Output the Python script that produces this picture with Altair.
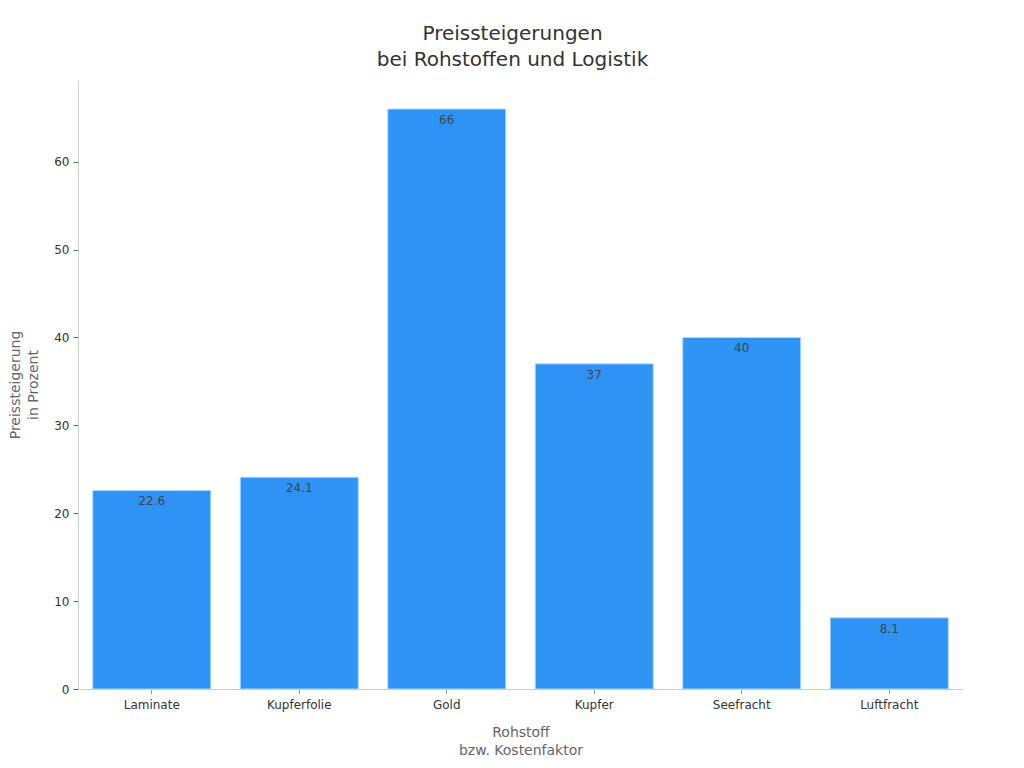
import altair as alt
import pandas as pd

categories = ["Laminate", "Kupferfolie", "Gold", "Kupfer", "Seefracht", "Luftfracht"]
values = [22.6, 24.1, 66, 37, 40, 8.1]
labels = ["22.6", "24.1", "66", "37", "40", "8.1"]

df = pd.DataFrame({"cat": categories, "val": values, "lab": labels})

FONT = "DejaVu Sans"

x = alt.X("cat:N", sort=categories,
          scale=alt.Scale(paddingInner=0.2, paddingOuter=0.1),
          axis=alt.Axis(title=["Rohstoff", "bzw. Kostenfaktor"], labelAngle=0,
                        labelFontSize=12, labelColor="#333333", labelFont=FONT,
                        titleFontSize=14, titleColor="#666666", titleFont=FONT,
                        titleFontWeight="normal", titlePadding=15, titleLineHeight=18,
                        tickColor="#999999", tickSize=5, domainColor="#cccccc",
                        labelPadding=5))
y = alt.Y("val:Q", scale=alt.Scale(domain=[0, 69.3], nice=False),
          axis=alt.Axis(title=["Preissteigerung", "in Prozent"], values=[0, 10, 20, 30, 40, 50, 60],
                        grid=False, labelFontSize=12, labelColor="#333333", labelFont=FONT,
                        titleFontSize=14, titleColor="#666666", titleFont=FONT,
                        titleFontWeight="normal", titlePadding=13, titleLineHeight=18,
                        tickColor="#666666", tickSize=5, domainColor="#cccccc",
                        labelPadding=4))

bars = alt.Chart(df).mark_bar(color="#2E93F5", stroke="#a9d9ff", strokeWidth=1).encode(x=x, y=y)
text = alt.Chart(df).mark_text(baseline="top", dy=6, fontSize=12, font=FONT, color="#444444").encode(
    x=alt.X("cat:N", sort=categories), y="val:Q", text="lab:N")

chart = (bars + text).properties(
    width=885, height=609,
    title=alt.TitleParams(["Preissteigerungen", "bei Rohstoffen und Logistik"], fontSize=20,
                          font=FONT, fontWeight="normal", color="#333333", anchor="middle",
                          offset=10, dx=-8, lineHeight=26),
    padding={"left": 70, "top": 72, "right": 45, "bottom": 70},
    autosize=alt.AutoSizeParams(type="none"),
).configure_view(strokeWidth=0, stroke="transparent")

chart.save("out.html", embed_options={"renderer": "svg", "actions": False})
